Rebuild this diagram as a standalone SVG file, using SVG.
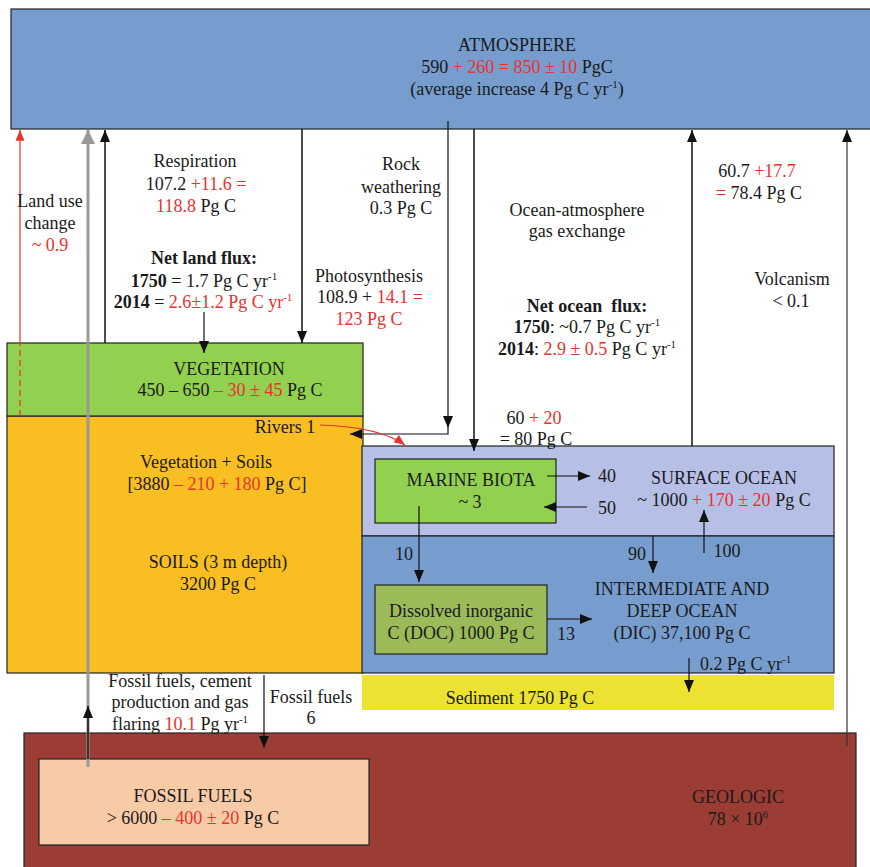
<svg xmlns="http://www.w3.org/2000/svg" width="870" height="867" viewBox="0 0 870 867">
<defs>
<marker id="aB" viewBox="0 0 12 10" refX="12" refY="5" markerWidth="12" markerHeight="10" markerUnits="userSpaceOnUse" orient="auto"><path d="M0,0 L12,5 L0,10 z" fill="#111"/></marker>
<marker id="aR" viewBox="0 0 12 10" refX="12" refY="5" markerWidth="12" markerHeight="9" markerUnits="userSpaceOnUse" orient="auto"><path d="M0,0 L12,5 L0,10 z" fill="#e8322e"/></marker>
<marker id="aG" viewBox="0 0 14 14" refX="14" refY="7" markerWidth="14" markerHeight="14" markerUnits="userSpaceOnUse" orient="auto"><path d="M0,0 L14,7 L0,14 z" fill="#999"/></marker>
</defs>
<style>
text{font-family:"Liberation Serif","Times New Roman",serif;font-size:18px;fill:#1a1a1a;text-anchor:middle}
.r{fill:#e8322e}
.b{font-weight:bold}
.box{stroke:#222;stroke-width:1.2}
.ln{stroke:#111;stroke-width:1.5;fill:none}
.th{stroke:#111;stroke-width:1.2;fill:none}
.sup{font-size:11px}
</style>

<g id="atmosphere">
<rect class="box" x="11" y="9" width="870" height="120" fill="#779dcf"/>
<text x="517" y="51">ATMOSPHERE</text>
<text x="517" y="73">590 <tspan class="r">+ 260 = 850 ± 10</tspan> PgC</text>
<text x="517" y="95">(average increase 4 Pg C yr<tspan class="sup" dy="-7">-1</tspan><tspan dy="7">)</tspan></text>
</g>

<g id="soils">
<rect class="box" x="7" y="416" width="356" height="257" fill="#f9be21"/>
<text x="206" y="468">Vegetation + Soils</text>
<text x="217" y="490">[3880 <tspan class="r">– 210 + 180</tspan> Pg C]</text>
<text x="218" y="568">SOILS (3 m depth)</text>
<text x="218" y="590">3200 Pg C</text>
</g>

<g id="vegetation">
<rect class="box" x="7" y="343" width="356" height="73" fill="#92d050"/>
<text x="229" y="375">VEGETATION</text>
<text x="230" y="396">450 – 650 <tspan class="r">– 30 ± 45</tspan> Pg C</text>
</g>

<g id="surface-ocean">
<rect class="box" x="362" y="446" width="472" height="90" fill="#b6c0e7"/>
<text x="724" y="484">SURFACE OCEAN</text>
<text x="724" y="506">~ 1000 <tspan class="r">+ 170 ± 20</tspan> Pg C</text>
</g>

<g id="deep-ocean">
<rect class="box" x="362" y="536" width="472" height="137" fill="#779dcf"/>
<text x="682" y="595">INTERMEDIATE AND</text>
<text x="682" y="617">DEEP OCEAN</text>
<text x="682" y="639">(DIC) 37,100 Pg C</text>
</g>

<g id="marine-biota">
<rect class="box" x="375" y="459" width="181" height="64" fill="#92d050"/>
<text x="471" y="486">MARINE BIOTA</text>
<text x="470" y="508">~ 3</text>
</g>

<g id="doc">
<rect class="box" x="375" y="585" width="172" height="69" fill="#9bbb59"/>
<text x="461" y="617">Dissolved inorganic</text>
<text x="461" y="639">C (DOC) 1000 Pg C</text>
</g>

<g id="sediment">
<rect x="362" y="675" width="472" height="35" fill="#ece232"/>
<text x="520" y="704">Sediment 1750 Pg C</text>
</g>

<g id="geologic">
<rect class="box" x="24" y="733" width="832" height="140" fill="#9b3d34"/>
<text x="738" y="803">GEOLOGIC</text>
<text x="738" y="825">78 × 10<tspan class="sup" dy="-7">6</tspan></text>
</g>

<g id="fossil-fuels">
<rect class="box" x="39" y="759" width="330" height="86" fill="#f8cba7"/>
<text x="193" y="802">FOSSIL FUELS</text>
<text x="193" y="824">&gt; 6000 <tspan class="r">– 400 ± 20</tspan> Pg C</text>
</g>

<g id="connectors">
<!-- land use change -->
<line x1="20" y1="416" x2="20" y2="343" stroke="#e8322e" stroke-width="1.2" stroke-dasharray="6,4"/>
<line x1="20" y1="343" x2="20" y2="130" stroke="#e8322e" stroke-width="1.2" marker-end="url(#aR)"/>
<!-- fossil fuel emissions -->
<line x1="88" y1="767" x2="88" y2="130" stroke="#999" stroke-width="3" marker-end="url(#aG)"/>
<line x1="88" y1="759" x2="88" y2="706" stroke="#111" stroke-width="1.5" marker-end="url(#aB)"/>
<!-- respiration -->
<line class="ln" x1="105" y1="343" x2="105" y2="130" marker-end="url(#aB)"/>
<!-- photosynthesis -->
<line class="ln" x1="302" y1="129" x2="302" y2="343" marker-end="url(#aB)"/>
<!-- net land flux -->
<line class="th" x1="204" y1="312" x2="204" y2="353" marker-end="url(#aB)"/>
<!-- rock weathering -->
<line class="th" x1="448" y1="121" x2="448" y2="428" marker-end="url(#aB)"/>
<polyline class="th" points="448,428 448,434 350,434" marker-end="url(#aB)"/>
<!-- rivers -->
<path d="M320,425 Q380,427 405,445" fill="none" stroke="#e8322e" stroke-width="1.2" marker-end="url(#aR)"/>
<!-- ocean uptake -->
<line class="ln" x1="474" y1="129" x2="474" y2="451" marker-end="url(#aB)"/>
<!-- ocean outgassing -->
<line class="ln" x1="692" y1="446" x2="692" y2="130" marker-end="url(#aB)"/>
<!-- volcanism -->
<line x1="847" y1="746" x2="847" y2="130" stroke="#333" stroke-width="1.2" marker-end="url(#aB)"/>
<!-- marine biota exchange -->
<line class="th" x1="547" y1="476" x2="590" y2="476" marker-end="url(#aB)"/>
<line class="th" x1="587" y1="507" x2="544" y2="507" marker-end="url(#aB)"/>
<line class="th" x1="419" y1="506" x2="419" y2="582" marker-end="url(#aB)"/>
<line class="th" x1="653" y1="536" x2="653" y2="573" marker-end="url(#aB)"/>
<line class="th" x1="704" y1="553" x2="704" y2="510" marker-end="url(#aB)"/>
<line class="th" x1="547" y1="619" x2="592" y2="619" marker-end="url(#aB)"/>
<line class="th" x1="689" y1="658" x2="689" y2="692" marker-end="url(#aB)"/>
<!-- fossil fuels 6 -->
<line class="th" x1="264" y1="675" x2="264" y2="748" marker-end="url(#aB)"/>
</g>

<g id="labels">
<text x="50" y="207">Land use</text>
<text x="50" y="229">change</text>
<text x="50" y="251" class="r">~ 0.9</text>
<text x="195" y="167">Respiration</text>
<text x="196" y="190">107.2 <tspan class="r">+11.6 =</tspan></text>
<text x="196" y="212"><tspan class="r">118.8</tspan> Pg C</text>
<text x="204" y="264" class="b">Net land flux:</text>
<text x="204" y="287"><tspan class="b">1750</tspan> = 1.7 Pg C yr<tspan class="sup" dy="-7">-1</tspan></text>
<text x="203" y="308"><tspan class="b">2014</tspan> = <tspan class="r">2.6±1.2 Pg C yr</tspan><tspan class="sup r" dy="-7">-1</tspan></text>
<text x="401" y="170">Rock</text>
<text x="401" y="193">weathering</text>
<text x="401" y="214">0.3 Pg C</text>
<text x="369" y="282">Photosynthesis</text>
<text x="370" y="303">108.9 + <tspan class="r">14.1 =</tspan></text>
<text x="369" y="325" class="r">123 Pg C</text>
<text x="577" y="216">Ocean-atmosphere</text>
<text x="577" y="237">gas exchange</text>
<text x="587" y="312" class="b" style="white-space:pre">Net ocean  flux:</text>
<text x="587" y="333"><tspan class="b">1750</tspan>: ~0.7 Pg C yr<tspan class="sup" dy="-7">-1</tspan></text>
<text x="587" y="355"><tspan class="b">2014</tspan>: <tspan class="r">2.9 ± 0.5</tspan> Pg C yr<tspan class="sup" dy="-7">-1</tspan></text>
<text x="757" y="177">60.7 <tspan class="r">+17.7</tspan></text>
<text x="759" y="199"><tspan class="r">=</tspan> 78.4 Pg C</text>
<text x="792" y="285">Volcanism</text>
<text x="791" y="307">&lt; 0.1</text>
<text x="285" y="433">Rivers 1</text>
<text x="534" y="424">60 <tspan class="r">+ 20</tspan></text>
<text x="536" y="445">= 80 Pg C</text>
<text x="607" y="482">40</text>
<text x="607" y="514">50</text>
<text x="404" y="560">10</text>
<text x="637" y="560">90</text>
<text x="727" y="557">100</text>
<text x="566" y="640">13</text>
<text x="700" y="670" style="text-anchor:start">0.2 Pg C yr<tspan class="sup" dy="-7">-1</tspan></text>
<text x="180" y="687">Fossil fuels, cement</text>
<text x="180" y="708">production and gas</text>
<text x="180" y="730">flaring <tspan class="r">10.1</tspan> Pg yr<tspan class="sup" dy="-7">-1</tspan></text>
<text x="311" y="703">Fossil fuels</text>
<text x="311" y="724">6</text>
</g>
</svg>
